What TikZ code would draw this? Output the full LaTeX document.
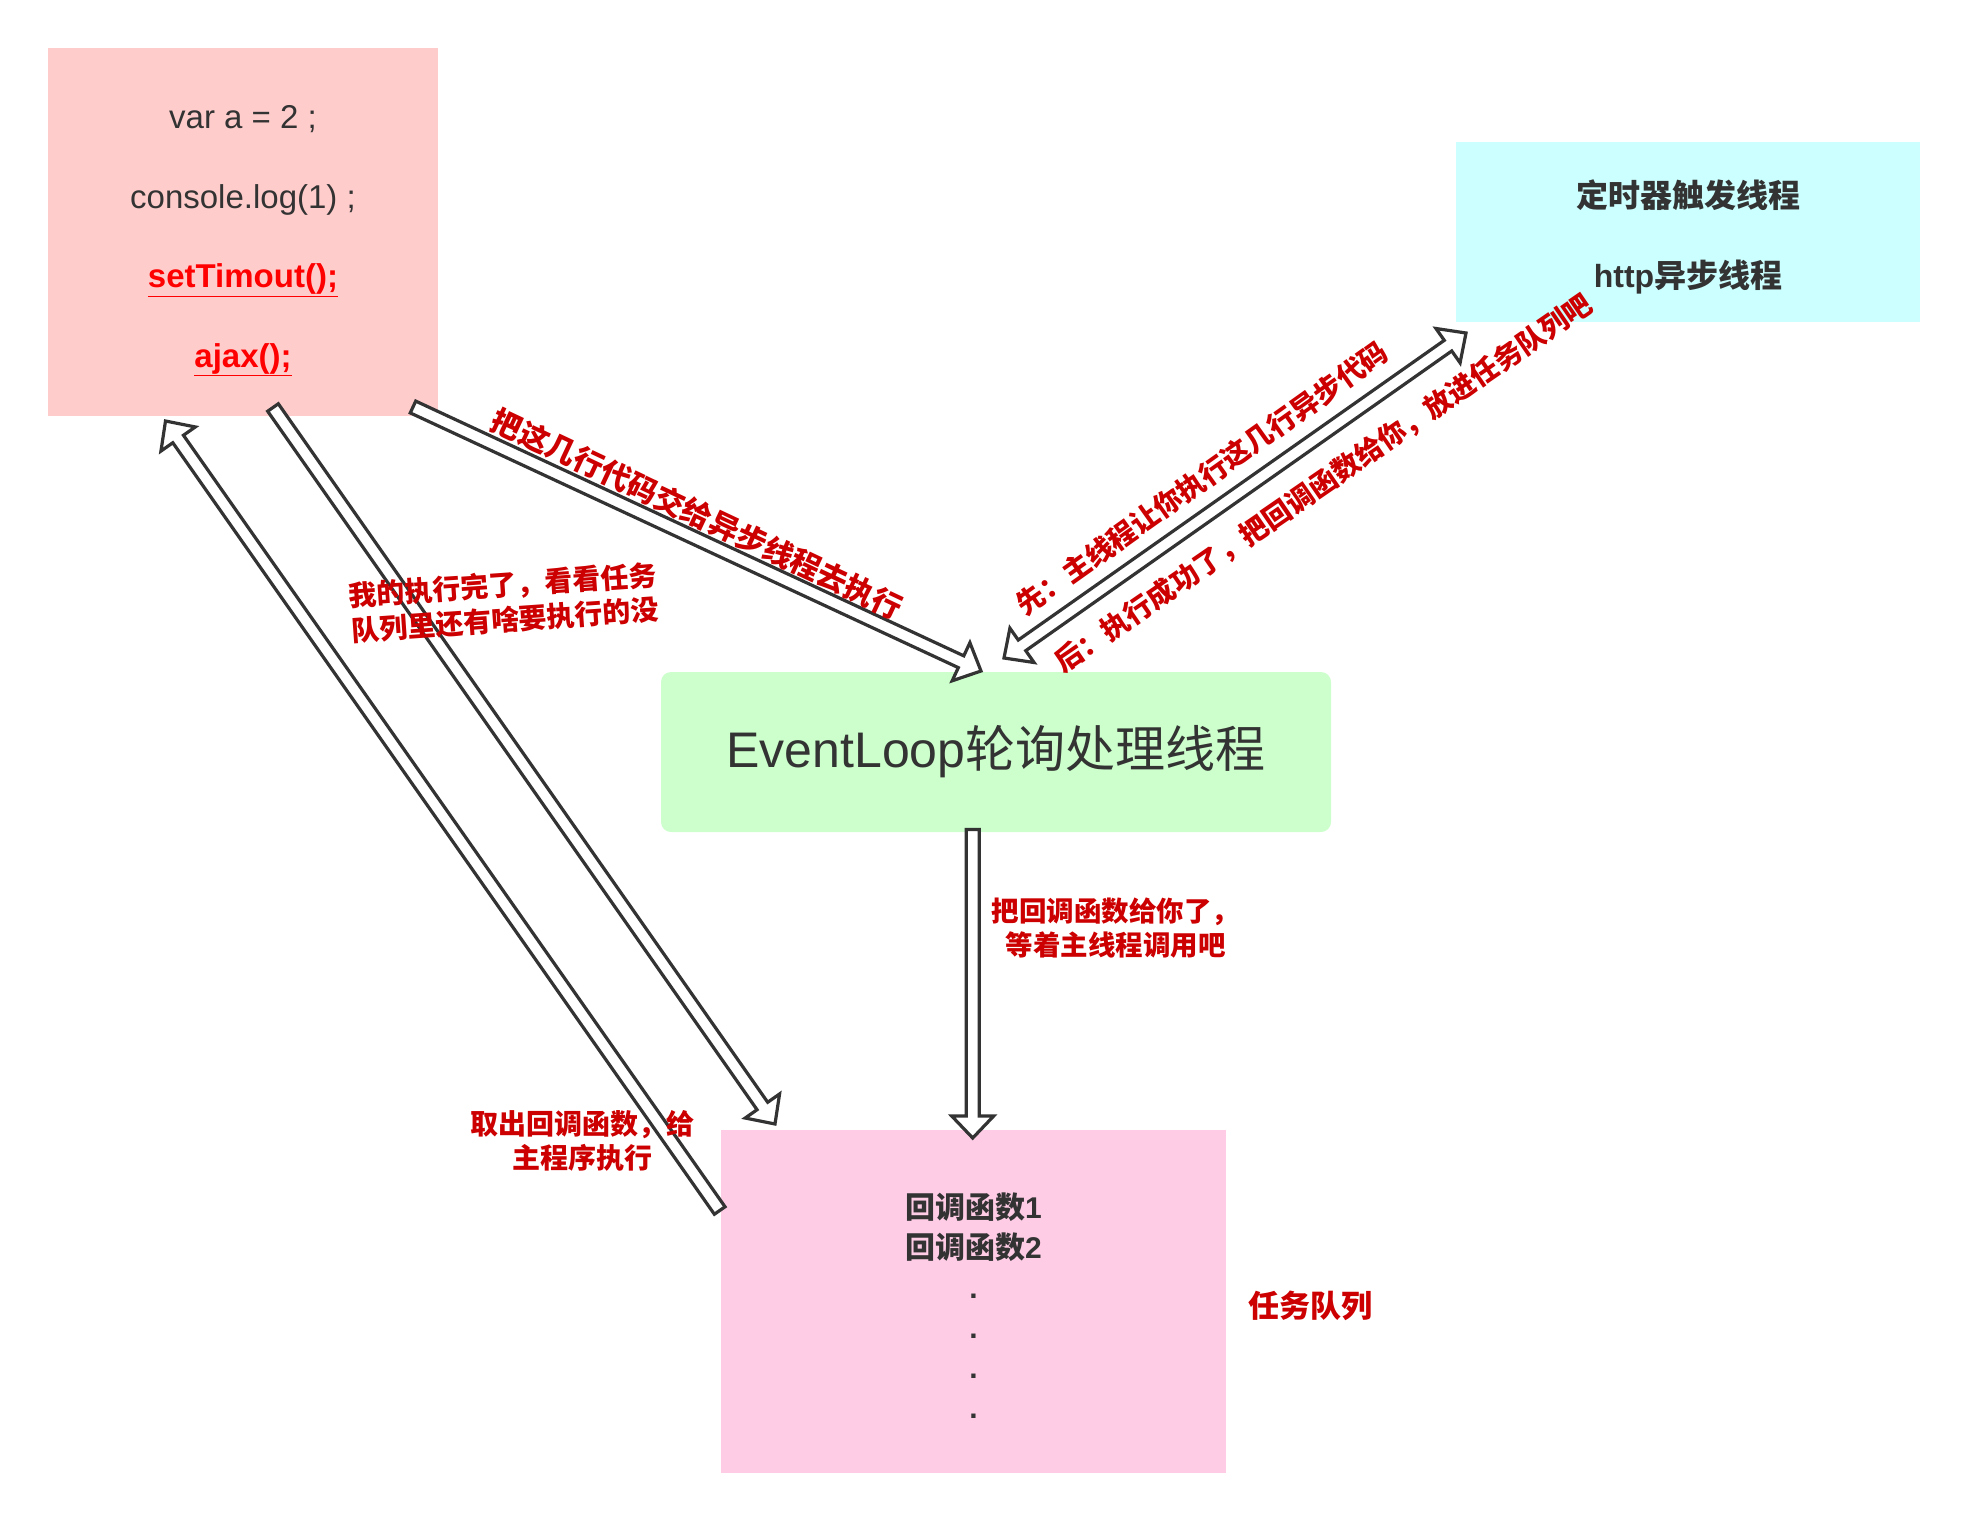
\documentclass[tikz,border=0pt]{standalone}
\usepackage{fontspec}
\setmainfont{Liberation Sans}
\newfontfamily\cjk{Noto Sans CJK SC}
\usetikzlibrary{calc}
\definecolor{codepink}{HTML}{FFCCCC}
\definecolor{timercyan}{HTML}{CCFFFF}
\definecolor{loopgreen}{HTML}{CCFFCC}
\definecolor{queuepink}{HTML}{FFCCE6}
\definecolor{darktext}{HTML}{333333}
\definecolor{labelred}{HTML}{CC0000}
\definecolor{codered}{HTML}{FF0000}
\newcommand{\shaftw}{6.5pt}
\newcommand{\headw}{21pt}
\newcommand{\headl}{22pt}
% hollow block arrow, one head
\newcommand{\flexarrow}[2]{%
    \coordinate (headB) at ($(#2)!\headl!(#1)$);
    \draw[flexline] ($(#1)!\shaftw!90:(#2)$) -- ($(headB)!\shaftw!90:(#2)$)
        -- ($(headB)!\headw!90:(#2)$) -- (#2) -- ($(headB)!\headw!-90:(#2)$)
        -- ($(headB)!\shaftw!-90:(#2)$) -- ($(#1)!\shaftw!-90:(#2)$) -- cycle;
}
% hollow block arrow, two heads
\newcommand{\flexarrowboth}[2]{%
    \coordinate (headA) at ($(#1)!\headl!(#2)$);
    \coordinate (headB) at ($(#2)!\headl!(#1)$);
    \draw[flexline] ($(headA)!\shaftw!90:(#2)$) -- ($(headB)!\shaftw!90:(#2)$)
        -- ($(headB)!\headw!90:(#2)$) -- (#2) -- ($(headB)!\headw!-90:(#2)$)
        -- ($(headB)!\shaftw!-90:(#2)$) -- ($(headA)!\shaftw!-90:(#2)$)
        -- ($(headA)!\headw!-90:(#2)$) -- (#1) -- ($(headA)!\headw!90:(#2)$) -- cycle;
}

\begin{document}
\begin{tikzpicture}[x=1pt, y=-1pt]
            %\draw[help lines, step=100] (0,0) grid (1968,1521);
            \useasboundingbox (0,0) rectangle (1968,1521);
            \tikzset{box/.style = {draw=none, inner sep=0pt, text=darktext},
                     flexline/.style = {draw=darktext, fill=white, line width=3.2pt, line join=miter, miter limit=10},
                     lab/.style = {text=labelred, align=center, inner sep=0pt}}
            % boxes
            \node[box, fill=codepink, minimum width=390pt, minimum height=368pt] (code) at (243,232) {};
            \node[box, align=center, font=\fontsize{33}{79.5}\selectfont] (codelines) at (243,241)
                {var a = 2 ;\\console.log(1) ;\\{\color{codered}\bfseries\underline{setTimout();}}\\{\color{codered}\bfseries\underline{ajax();}}};
            \node[box, fill=timercyan, minimum width=464pt, minimum height=180pt] (timer) at (1688,232) {};
            \node[box, align=center, font=\bfseries\fontsize{32}{80.7}\selectfont] (timerlines) at (1688,237)
                {{\cjk 定时器触发线程}\\http{\cjk 异步线程}};
            \node[box, fill=loopgreen, rounded corners=10pt, minimum width=670pt, minimum height=160pt,
                  font=\fontsize{50}{60}\selectfont] (loop) at (996,752) {\raisebox{-4pt}{EventLoop{\cjk 轮询处理线程}}};
            \node[box, fill=queuepink, minimum width=505pt, minimum height=343pt] (queue) at (973.5,1301.5) {};
            \node[box, align=center, font=\bfseries\fontsize{30}{40}\selectfont] (queuelines) at (973.5,1305.5)
                {{\cjk 回调函数}1\\{\cjk 回调函数}2\\.\\.\\.\\.};
            % arrow ends
            \coordinate (codeOut) at (413,407);
            \coordinate (loopIn) at (981,671);
            \coordinate (loopOut) at (1004,658);
            \coordinate (timerIn) at (1466,333);
            \coordinate (loopDown) at (972.7,829.5);
            \coordinate (queueIn) at (972.7,1138);
            \coordinate (codeDown) at (273,407.5);
            \coordinate (queueTop) at (775,1124);
            \coordinate (queueOut) at (719.7,1210.5);
            \coordinate (codeBack) at (165.5,421);
            \flexarrow{codeOut}{loopIn}
            \flexarrowboth{loopOut}{timerIn}
            \flexarrow{loopDown}{queueIn}
            \flexarrow{codeDown}{queueTop}
            \flexarrow{queueOut}{codeBack}
            % labels
            \node[lab, rotate=-25.2, font=\cjk\bfseries\fontsize{30}{36}\selectfont] (labsend) at (697.4,513.8)
                {把这几行代码交给异步线程去执行};
            \node[lab, rotate=35.4, font=\cjk\bfseries\fontsize{28}{34}\selectfont] (labfirst) at (1202,478.5)
                {先：主线程让你执行这几行异步代码};
            \node[lab, rotate=34.5, font=\cjk\bfseries\fontsize{28}{34}\selectfont] (labthen) at (1323.3,483.3)
                {后：执行成功了，把回调函数给你，放进任务队列吧};
            \node[lab, rotate=4, font=\cjk\bfseries\fontsize{28}{35}\selectfont] (labdone) at (504,602.7)
                {我的执行完了，看看任务\\队列里还有啥要执行的没};
            \node[lab, font=\cjk\bfseries\fontsize{28}{34}\selectfont] (labtake) at (582.5,1140.5)
                {取出回调函数，给\\主程序执行};
            \node[lab, font=\cjk\bfseries\fontsize{27.5}{33.3}\selectfont] (labgive) at (1115.5,928)
                {把回调函数给你了，\\等着主线程调用吧};
            \node[lab, font=\cjk\bfseries\fontsize{31}{36}\selectfont] (labqueue) at (1310,1305.7) {任务队列};
\end{tikzpicture}
\end{document}
